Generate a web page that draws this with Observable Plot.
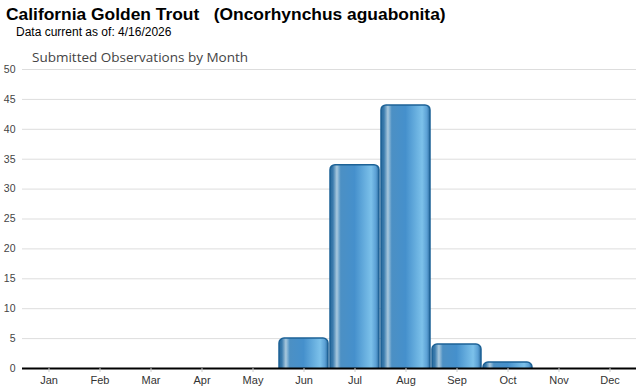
<!DOCTYPE html>
<html>
<head>
<meta charset="utf-8">
<script src="https://cdn.jsdelivr.net/npm/d3@7"></script>
<script src="https://cdn.jsdelivr.net/npm/@observablehq/plot@0.6"></script>
<style>
  body { margin: 0; background: #fff; font-family: "Liberation Sans", Arial, sans-serif; }
  #wrap { position: relative; width: 640px; height: 390px; }
  #title { position: absolute; left: 6px; top: 4px; font-weight: bold; font-size: 17.4px; color: #000; white-space: pre; }
  #sub { position: absolute; left: 16px; top: 25px; font-size: 12px; color: #000; }
  #ctitle { position: absolute; left: 32px; top: 48px; font-family: "Open Sans", sans-serif; font-size: 13.5px; color: #444; z-index: 2; }
  #chart { position: absolute; left: 0; top: 42px; }
</style>
</head>
<body>
<div id="wrap">
  <div id="title">California Golden Trout   (Oncorhynchus aguabonita)</div>
  <div id="sub">Data current as of: 4/16/2026</div>
  <div id="ctitle">Submitted Observations by Month</div>
  <div id="chart"></div>
</div>
<script>
const months = ["Jan","Feb","Mar","Apr","May","Jun","Jul","Aug","Sep","Oct","Nov","Dec"];
const counts = [0,0,0,0,0,5,34,44,4,1,0,0];
const yTicks = [0,5,10,15,20,25,30,35,40,45,50];

const data = months.map((m, i) => ({month: m, count: counts[i]}));

const chart = Plot.plot({
  width: 640,
  height: 348,
  marginLeft: 22,
  marginRight: 4,
  marginTop: 27,
  marginBottom: 22,
  style: {fontFamily: "'Liberation Sans', Arial, sans-serif", fontSize: "11px", color: "#333", background: "transparent"},
  x: {domain: months, label: null, paddingInner: 0.03, paddingOuter: 0.015},
  y: {domain: [0, 50], label: null},
  marks: [
    Plot.gridY(yTicks, {stroke: "#ddd", strokeOpacity: 1}),
    Plot.axisY(yTicks, {tickSize: 0, tickPadding: 7, fill: "#444", fontSize: 10.5}),
    Plot.barY(data.filter(d => d.count > 0), {x: "month", y1: () => -1, y2: "count", fill: "url(#barGrad)", stroke: "#1d6296", strokeWidth: 1.5, rx: 5, clip: true}),
    Plot.ruleY([0], {stroke: "#000", strokeWidth: 2}),
    Plot.axisX({tickSize: 4, stroke: "#ccc", tickPadding: 4, fill: "#333", fontSize: 11})
  ]
});

const defs = document.createElementNS("http://www.w3.org/2000/svg", "defs");
defs.innerHTML = `
<linearGradient id="barGrad" x1="0" y1="0" x2="1" y2="0">
  <stop offset="0%" stop-color="#2a6a9c"/>
  <stop offset="6%" stop-color="#3b7cae"/>
  <stop offset="14%" stop-color="#a9c9de"/>
  <stop offset="22%" stop-color="#4c90c4"/>
  <stop offset="50%" stop-color="#4590cc"/>
  <stop offset="84%" stop-color="#7cc1ea"/>
  <stop offset="94%" stop-color="#5a9fd4"/>
  <stop offset="100%" stop-color="#2a6a9c"/>
</linearGradient>`;
chart.insertBefore(defs, chart.firstChild);
document.getElementById("chart").appendChild(chart);
</script>
</body>
</html>
